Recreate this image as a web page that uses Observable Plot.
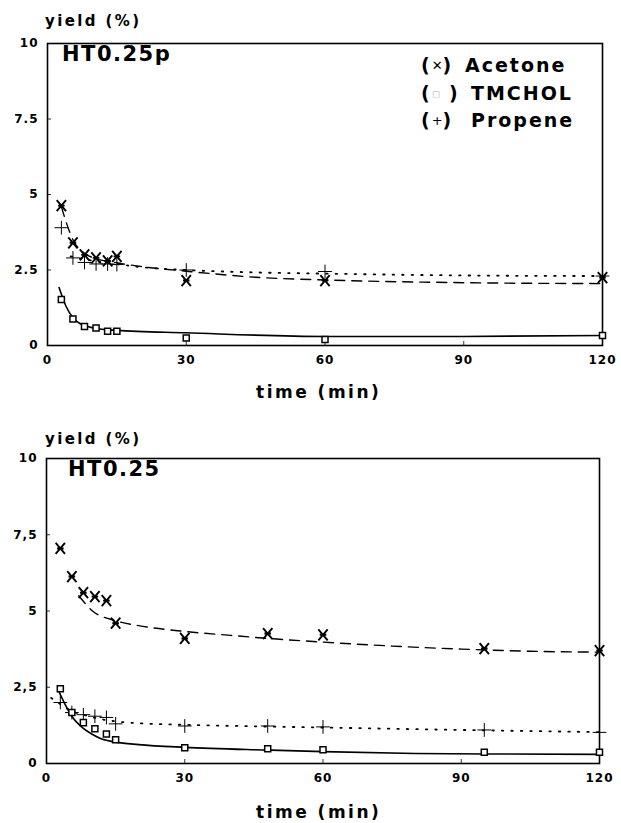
<!DOCTYPE html>
<html><head><meta charset="utf-8">
<script src="https://cdn.jsdelivr.net/npm/d3@7"></script>
<script src="https://cdn.jsdelivr.net/npm/@observablehq/plot@0.6"></script>
<style>
body{margin:0;background:#fff;font-family:"DejaVu Sans",sans-serif;}
#wrap{position:relative;width:621px;height:823px;overflow:hidden;background:#fff}
.lbl{position:absolute;font-weight:bold;color:#000;white-space:nowrap;line-height:1;z-index:2}
.panel{position:absolute;left:0;z-index:1}
.leg{position:absolute;font-weight:bold;font-size:19px;letter-spacing:2px;line-height:1;white-space:nowrap;z-index:2}
.leg .p{display:inline-block;width:44px}
.leg .s{font-size:13px;font-weight:normal;letter-spacing:0;position:relative;top:-2px}
</style></head>
<body><div id="wrap">
<div class="panel" id="p1" style="top:0"></div>
<div class="panel" id="p2" style="top:415px"></div>
<div class="lbl" style="left:45px;top:14px;font-size:15px;letter-spacing:2.4px">yield (%)</div>
<div class="lbl" id="t1" style="left:62px;top:44px;font-size:21px;letter-spacing:1.5px"></div>
<div class="leg" style="left:421px;top:56px"><span class="p">(<span class="s">✕</span>)</span>Acetone</div>
<div class="leg" style="left:421px;top:84px"><span class="p">(<span class="s" style="color:#ccc">▫</span> )</span><span style="margin-left:6px">TMCHOL</span></div>
<div class="leg" style="left:421px;top:111px"><span class="p">(<span class="s">+</span>)</span><span style="margin-left:6px">Propene</span></div>
<div class="lbl" style="left:256px;top:384px;font-size:17px;letter-spacing:2.5px">time (min)</div>
<div class="lbl" style="left:45px;top:432px;font-size:15px;letter-spacing:2.4px">yield (%)</div>
<div class="lbl" id="t2" style="left:68px;top:459px;font-size:21px;letter-spacing:1.5px"></div>
<div class="lbl" style="left:256px;top:804px;font-size:17px;letter-spacing:2.5px">time (min)</div>
</div>
<script>
// ---------- data ----------
const titleTop = "HT0.25p";
const titleBottom = "HT0.25";
const xTicks = [0, 30, 60, 90, 120];
const xTickLabels = ["0", "30", "60", "90", "120"];
const yTicks = [0, 2.5, 5, 7.5, 10];
const yTickLabelsTop = ["0", "2.5", "5", "7.5", "10"];
const yTickLabelsBottom = ["0", "2,5", "5", "7,5", "10"];

// top panel (HT0.25p) measured points
const tTop = [3, 5.5, 8, 10.5, 13, 15, 30, 60, 120];
const acetoneTop = [4.63, 3.4, 3.0, 2.9, 2.8, 2.95, 2.15, 2.15, 2.25];
const tmcholTop = [1.52, 0.88, 0.63, 0.58, 0.47, 0.47, 0.25, 0.2, 0.33];
const propeneTop = [3.9, 2.9, 2.75, 2.7, 2.7, 2.68, 2.5, 2.45, 2.3];
// top panel fitted curves
const fitAcetoneTopT = [3, 4, 5.5, 8, 10, 15, 20, 30, 45, 60, 90, 120];
const fitAcetoneTopY = [4.6, 4.1, 3.5, 3.05, 2.9, 2.74, 2.62, 2.46, 2.26, 2.17, 2.08, 2.05];
const fitTmcholTopT = [2.5, 4, 5.5, 8, 10, 15, 30, 60, 90, 120];
const fitTmcholTopY = [1.92, 1.3, 0.92, 0.66, 0.58, 0.5, 0.42, 0.3, 0.3, 0.33];
const fitPropeneTopT = [5, 10, 15, 20, 30, 45, 60, 90, 120];
const fitPropeneTopY = [2.95, 2.8, 2.7, 2.6, 2.5, 2.42, 2.38, 2.32, 2.3];

// bottom panel (HT0.25) measured points
const tBot = [3, 5.5, 8, 10.5, 13, 15, 30, 48, 60, 95, 120];
const acetoneBot = [7.05, 6.13, 5.6, 5.47, 5.34, 4.6, 4.1, 4.26, 4.22, 3.77, 3.7];
const tmcholBot = [2.45, 1.67, 1.34, 1.14, 0.97, 0.78, 0.52, 0.48, 0.45, 0.37, 0.37];
const propeneBot = [2.0, 1.67, 1.6, 1.55, 1.51, 1.3, 1.23, 1.23, 1.2, 1.1, 1.02];
// bottom panel fitted curves
const fitAcetoneBotT = [7, 10, 15, 20, 30, 40, 50, 60, 75, 90, 105, 120];
const fitAcetoneBotY = [5.5, 5.0, 4.68, 4.52, 4.33, 4.2, 4.08, 3.98, 3.85, 3.75, 3.68, 3.65];
const fitTmcholBotT = [2.5, 4, 5.5, 8, 10, 12, 15, 20, 30, 48, 60, 80, 100, 120];
const fitTmcholBotY = [2.42, 1.95, 1.55, 1.15, 0.95, 0.8, 0.7, 0.62, 0.53, 0.44, 0.39, 0.33, 0.31, 0.3];
const fitPropeneBotT = [1, 3, 5, 8, 12, 15, 20, 30, 45, 60, 90, 120];
const fitPropeneBotY = [2.15, 1.95, 1.75, 1.6, 1.45, 1.38, 1.32, 1.27, 1.22, 1.18, 1.1, 1.03];

// ---------- drawing ----------
const pts = (t, y) => t.map((d, i) => ({t: d, y: y[i]}));

// "X with a horizontal bar" marker, as in the original figure
const crossBar = {
  draw(ctx, size) {
    const r = Math.sqrt(size / Math.PI);
    const a = r * 0.85, b = r;
    ctx.moveTo(-a, -b); ctx.lineTo(a, b);
    ctx.moveTo(-a, b); ctx.lineTo(a, -b);
    ctx.moveTo(-r * 0.6, 0); ctx.lineTo(r * 0.6, 0);
  }
};

function panel({ac, tm, pr, fa, ft, fp, yLabels, margins}) {
  const yFmt = v => yLabels[yTicks.indexOf(v)];
  const xFmt = v => xTickLabels[xTicks.indexOf(v)];
  return Plot.plot({
    width: 621, height: 380,
    ...margins,
    style: {fontFamily: "DejaVu Sans", fontSize: "12px", fontWeight: "bold", letterSpacing: "1px", background: "white", color: "black"},
    x: {domain: [0, 120], label: null},
    y: {domain: [0, 10], label: null},
    marks: [
      Plot.frame({stroke: "black", strokeWidth: 1.6}),
      Plot.axisY({ticks: yTicks, tickSize: 0, tickPadding: 9, tickFormat: yFmt, label: null}),
      Plot.axisY({ticks: yTicks, tickSize: -4, tickFormat: () => "", label: null, strokeWidth: 0.8}),
      Plot.axisX({ticks: xTicks, tickSize: 0, tickPadding: 10, tickFormat: xFmt, label: null}),
      Plot.axisX({ticks: xTicks, tickSize: -4, tickFormat: () => "", label: null, strokeWidth: 0.8}),
      Plot.line(fa, {x: "t", y: "y", curve: "monotone-x", stroke: "black", strokeWidth: 1.4, strokeDasharray: "10,7"}),
      Plot.line(fp, {x: "t", y: "y", curve: "monotone-x", stroke: "black", strokeWidth: 1.8, strokeDasharray: "1.5,8"}),
      Plot.line(ft, {x: "t", y: "y", curve: "monotone-x", stroke: "black", strokeWidth: 1.6}),
      Plot.dot(pr, {x: "t", y: "y", symbol: "plus", r: 4.5, stroke: "black", strokeWidth: 1}),
      Plot.dot(tm, {x: "t", y: "y", symbol: "square", r: 3.4, fill: "white", stroke: "black", strokeWidth: 1.5}),
      Plot.dot(ac, {x: "t", y: "y", symbol: crossBar, r: 5.5, stroke: "black", strokeWidth: 1.9})
    ]
  });
}

document.getElementById("t1").textContent = titleTop;
document.getElementById("t2").textContent = titleBottom;

document.getElementById("p1").append(panel({
  ac: pts(tTop, acetoneTop), tm: pts(tTop, tmcholTop), pr: pts(tTop, propeneTop),
  fa: pts(fitAcetoneTopT, fitAcetoneTopY), ft: pts(fitTmcholTopT, fitTmcholTopY), fp: pts(fitPropeneTopT, fitPropeneTopY),
  yLabels: yTickLabelsTop,
  margins: {marginLeft: 47, marginRight: 19, marginTop: 43, marginBottom: 35}
}));
document.getElementById("p2").append(panel({
  ac: pts(tBot, acetoneBot), tm: pts(tBot, tmcholBot), pr: pts(tBot, propeneBot),
  fa: pts(fitAcetoneBotT, fitAcetoneBotY), ft: pts(fitTmcholBotT, fitTmcholBotY), fp: pts(fitPropeneBotT, fitPropeneBotY),
  yLabels: yTickLabelsBottom,
  margins: {marginLeft: 46, marginRight: 22, marginTop: 43, marginBottom: 32}
}));
</script>
</body></html>
